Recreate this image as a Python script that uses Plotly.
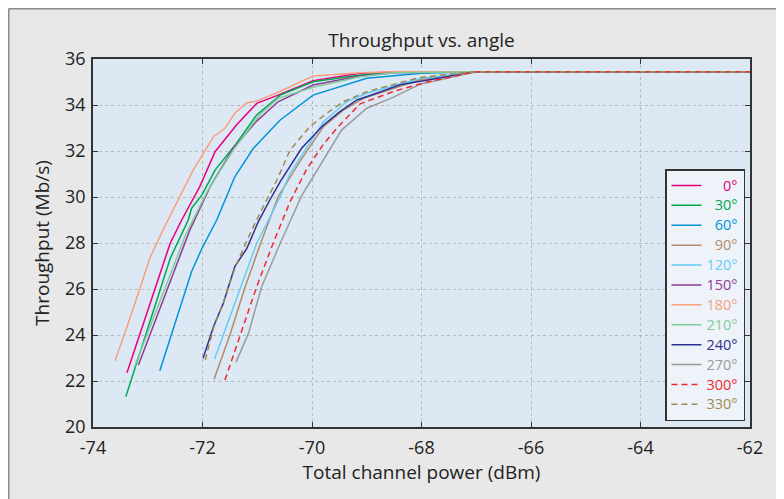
import plotly.graph_objects as go

# ---- data ----
angles = ["0°", "30°", "60°", "90°", "120°", "150°", "180°", "210°", "240°", "270°", "300°", "330°"]

x_0 = [-73.38, -72.59, -72.38, -72.05, -71.77, -71.38, -71.01, -70.62, -69.98, -69.12, -68.5, -67.0, -62]
y_0 = [22.36, 27.99, 29.0, 30.45, 31.97, 33.13, 34.07, 34.43, 35.06, 35.38, 35.43, 35.45, 35.45]

x_30 = [-73.40, -72.59, -72.26, -72.20, -72.01, -71.77, -71.38, -71.01, -70.58, -69.98, -69.12, -68.5, -67.0, -62]
y_30 = [21.32, 27.33, 29.0, 29.51, 30.09, 31.17, 32.33, 33.57, 34.43, 35.01, 35.30, 35.42, 35.45, 35.45]

x_60 = [-72.78, -72.20, -72.01, -71.74, -71.41, -71.07, -70.58, -69.98, -69.0, -68.0, -67.0, -62]
y_60 = [22.45, 26.75, 27.77, 29.0, 30.88, 32.12, 33.35, 34.43, 35.16, 35.38, 35.45, 35.45]

x_90 = [-71.79, -71.50, -71.22, -70.95, -70.62, -70.22, -69.79, -69.43, -69.06, -68.03, -67.0, -62]
y_90 = [22.07, 24.0, 26.1, 27.91, 30.01, 31.55, 33.06, 33.78, 34.29, 35.1, 35.45, 35.45]

x_120 = [-71.78, -71.01, -70.58, -70.40, -69.79, -69.37, -69.0, -68.03, -67.0, -62]
y_120 = [22.96, 27.99, 30.01, 31.03, 33.27, 34.14, 34.51, 35.15, 35.45, 35.45]

x_150 = [-73.17, -72.23, -71.86, -71.44, -71.01, -70.62, -69.98, -69.12, -68.5, -67.0, -62]
y_150 = [22.70, 28.57, 30.45, 32.12, 33.30, 34.14, 34.87, 35.26, 35.40, 35.45, 35.45]

x_180 = [-73.60, -73.43, -73.14, -72.96, -72.72, -72.47, -72.17, -71.80, -71.59, -71.41, -71.19, -71.01, -70.58, -69.98, -69.12, -68.5, -67.0, -62]
y_180 = [22.88, 24.0, 26.04, 27.35, 28.57, 29.73, 31.17, 32.62, 32.99, 33.64, 34.10, 34.17, 34.6, 35.26, 35.40, 35.45, 35.45, 35.45]

x_210 = [-73.25, -72.30, -71.90, -71.45, -70.95, -70.62, -69.98, -69.12, -68.5, -67.0, -62]
y_210 = [22.57, 28.4, 30.3, 32.0, 33.6, 34.29, 34.77, 35.23, 35.40, 35.45, 35.45]

x_240 = [-71.99, -71.80, -71.62, -71.41, -71.19, -70.98, -70.77, -70.58, -70.19, -69.79, -69.49, -69.18, -68.82, -68.39, -67.0, -62]
y_240 = [22.99, 24.36, 25.38, 26.97, 27.77, 28.93, 29.87, 30.67, 32.12, 33.13, 33.71, 34.22, 34.51, 34.88, 35.45, 35.45]

x_270 = [-71.39, -71.16, -70.92, -70.58, -70.19, -69.79, -69.46, -69.0, -68.52, -68.03, -67.0, -62]
y_270 = [22.81, 24.07, 26.10, 27.99, 30.05, 31.61, 32.91, 33.86, 34.33, 34.90, 35.45, 35.45]

x_300 = [-71.59, -71.32, -71.01, -70.71, -70.40, -70.10, -69.79, -69.52, -69.12, -68.5, -67.9, -67.0, -62]
y_300 = [22.04, 23.93, 26.10, 27.99, 29.80, 31.20, 32.3, 33.06, 34.05, 34.6, 35.0, 35.45, 35.45]

x_330 = [-71.95, -71.80, -71.62, -71.41, -71.32, -71.10, -70.89, -70.64, -70.40, -70.04, -69.73, -69.43, -69.0, -68.03, -67.0, -62]
y_330 = [22.91, 24.3, 25.4, 26.9, 27.4, 28.57, 29.58, 30.74, 32.04, 33.06, 33.64, 34.14, 34.58, 35.2, 35.45, 35.45]

xs = [x_0, x_30, x_60, x_90, x_120, x_150, x_180, x_210, x_240, x_270, x_300, x_330]
ys = [y_0, y_30, y_60, y_90, y_120, y_150, y_180, y_210, y_240, y_270, y_300, y_330]

colors = ["#e6007e", "#00a651", "#0095d9", "#b4896c", "#66cdf6", "#8e3a96",
          "#f9a07e", "#80cc9a", "#2e3192", "#9b9b9b", "#ee2a2e", "#9d8a4c"]
dashes = ["solid"] * 10 + ["6px,4px", "6px,4px"]

x_ticks = [-74, -72, -70, -68, -66, -64, -62]
y_ticks = [20, 22, 24, 26, 28, 30, 32, 34, 36]

FONT = "Open Sans"
OFF = 8                      # page body margin
W, H = 784 - OFF, 499 - OFF
L, R, T, B = 93 - OFF, 34, 59 - OFF, 72
pw, ph = W - L - R, H - T - B

def px_x(p):
    return (p - OFF - L) / pw

def px_y(p):
    return (H - B - (p - OFF)) / ph

fig = go.Figure()
for a, x, y, c, d in zip(angles, xs, ys, colors, dashes):
    label = "\u2007" * (4 - len(a)) + a
    fig.add_trace(go.Scatter(
        x=x, y=y, mode="lines",
        line=dict(color=c, width=1.5, dash=d),
        name=f'<span style="color:{c};font-size:14.5px">{label}</span>',
    ))

axis_common = dict(
    showline=True, linecolor="#333333", linewidth=1.5, mirror="ticks",
    ticks="inside", ticklen=5, tickwidth=1.2, tickcolor="#333333",
    showgrid=True, gridcolor="#b9b9b9", griddash="dot", gridwidth=1,
    zeroline=False, tickfont=dict(family=FONT, size=18, color="#222222"),
)

fig.update_layout(
    width=W, height=H,
    margin=dict(l=L, r=R, t=T, b=B),
    paper_bgcolor="#e8e8e8",
    plot_bgcolor="#dde8f5",
    font=dict(family=FONT, color="#222222"),
    title=dict(text="Throughput vs. angle", x=(421.5 - OFF) / W,
               xanchor="center", y=1 - (40 - OFF) / H, yanchor="middle", yref="container",
               font=dict(family=FONT, size=19, color="#222222")),
    xaxis=dict(range=[-74, -62], tickvals=x_ticks, ticktext=[str(v) for v in x_ticks],
               ticklabelstandoff=4,
               title=dict(text="Total channel power (dBm)", font=dict(family=FONT, size=19), standoff=6),
               **axis_common),
    yaxis=dict(range=[20, 36], tickvals=y_ticks, ticktext=[str(v) for v in y_ticks],
               ticklabelstandoff=2,
               title=dict(text="Throughput (Mb/s)", font=dict(family=FONT, size=19), standoff=10),
               **axis_common),
    legend=dict(x=px_x(745), xanchor="right", y=px_y(421), yanchor="bottom",
                bgcolor="#eef3fa", bordercolor="#333333", borderwidth=1.5,
                font=dict(family=FONT, size=13), itemwidth=30,
                tracegroupgap=0, itemclick=False),
    showlegend=True,
)

# outer frame border (top and left)
fig.add_shape(type="line", xref="paper", yref="paper", x0=px_x(8.75), x1=px_x(800),
              y0=px_y(8.75), y1=px_y(8.75), line=dict(color="#8a8a8a", width=1.5))
fig.add_shape(type="line", xref="paper", yref="paper", x0=px_x(8.75), x1=px_x(8.75),
              y0=px_y(8.75), y1=px_y(520), line=dict(color="#8a8a8a", width=1.5))

fig.write_html("out.html")
